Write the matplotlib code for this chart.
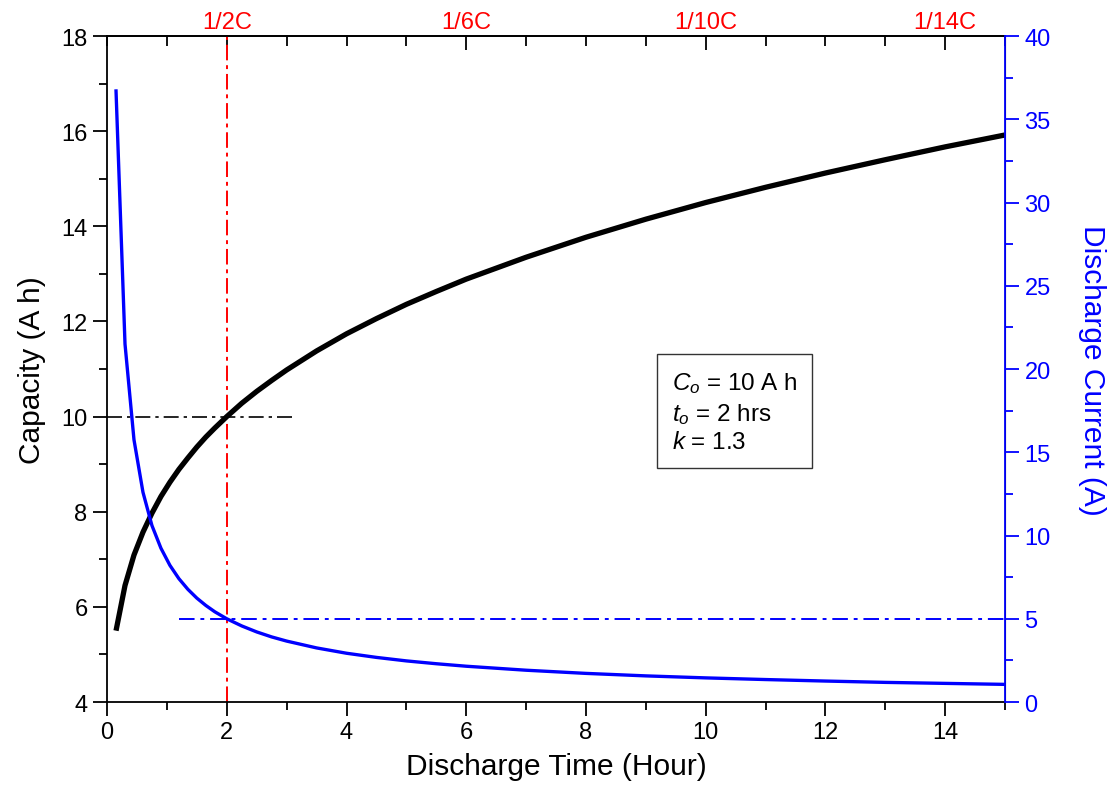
import matplotlib; matplotlib.use('Agg')
import matplotlib.pyplot as plt
from matplotlib.ticker import MultipleLocator, FixedLocator

plt.rcParams['font.family'] = ['Liberation Sans', 'DejaVu Sans']
plt.rcParams['mathtext.fontset'] = 'custom'
plt.rcParams['mathtext.it'] = 'Liberation Sans:italic'
plt.rcParams['mathtext.rm'] = 'Liberation Sans'

# values
time_h = [0.15, 0.3, 0.45, 0.6, 0.75, 0.9, 1.05, 1.2, 1.35, 1.5, 1.65, 1.8,
          2.0, 2.25, 2.5, 2.75, 3.0, 3.5, 4.0, 4.5, 5.0, 5.5, 6.0, 7.0,
          8.0, 9.0, 10.0, 11.0, 12.0, 13.0, 14.0, 15.0]
capacity = [5.50, 6.45, 7.09, 7.57, 7.97, 8.32, 8.62, 8.89, 9.13, 9.36, 9.57,
            9.76, 10.00, 10.28, 10.53, 10.76, 10.98, 11.38, 11.74, 12.06,
            12.36, 12.63, 12.89, 13.35, 13.77, 14.15, 14.50, 14.82, 15.12,
            15.40, 15.67, 15.92]
current = [36.7, 21.5, 15.75, 12.6, 10.6, 9.24, 8.21, 7.41, 6.77, 6.24, 5.80,
           5.42, 5.00, 4.57, 4.21, 3.91, 3.66, 3.25, 2.93, 2.68, 2.47, 2.30,
           2.15, 1.91, 1.72, 1.57, 1.45, 1.35, 1.26, 1.18, 1.12, 1.06]
rate_pos = [2, 6, 10, 14]
rate_lbl = ['1/2C', '1/6C', '1/10C', '1/14C']
C0, t0, k = 10, 2, 1.3
I_ref = 5

fig = plt.figure(figsize=(11.07, 8.03), dpi=100)
fig.patch.set_facecolor('white')
ax = fig.add_axes([0.0967, 0.1245, 0.8112, 0.8294])
ax2 = ax.twinx()

ax.plot(time_h, capacity, color='black', lw=3.8, solid_capstyle='butt',
        solid_joinstyle='round', zorder=3)
ax2.plot(time_h, current, color='#0000ff', lw=2.4, solid_joinstyle='round', zorder=3)

ax.plot([0, 3.1], [C0, C0], color='black', lw=1.2, dashes=(9, 3, 2, 3))
ax2.plot([1.2, 15], [I_ref, I_ref], color='#0000ff', lw=1.4, dashes=(8, 3, 2, 3))
ax.axvline(t0, color='#ff0000', lw=1.4, dashes=(8, 2.5, 2, 2.5), zorder=2)

ax.set_xlim(0, 15)
ax.set_ylim(4, 18)
ax2.set_ylim(0, 40)

ax.xaxis.set_major_locator(MultipleLocator(2))
ax.xaxis.set_minor_locator(MultipleLocator(1))
ax.yaxis.set_major_locator(MultipleLocator(2))
ax.yaxis.set_minor_locator(MultipleLocator(1))
ax2.yaxis.set_major_locator(MultipleLocator(5))
ax2.yaxis.set_minor_locator(MultipleLocator(2.5))

ax.tick_params(axis='both', which='major', direction='out', length=10, width=1.3,
               labelsize=17, pad=4)
ax.tick_params(axis='both', which='minor', direction='out', length=6, width=1.3)
ax2.tick_params(axis='y', which='major', direction='out', length=10, width=1.3,
                labelsize=17, colors='#0000ff', pad=4)
ax2.tick_params(axis='y', which='minor', direction='out', length=6, width=1.3,
                colors='#0000ff')

for s in ['left', 'bottom', 'top']:
    ax.spines[s].set_linewidth(1.3)
ax2.spines['right'].set_color('#0000ff')
ax2.spines['right'].set_linewidth(1.3)
ax2.spines['left'].set_visible(False)
ax2.spines['top'].set_visible(False)
ax2.spines['bottom'].set_visible(False)

# top axis with C-rate labels
top = ax.secondary_xaxis('top')
top.xaxis.set_major_locator(FixedLocator(rate_pos))
top.set_xticklabels(rate_lbl)
top.xaxis.set_minor_locator(MultipleLocator(1))
top.tick_params(which='major', direction='in', length=10, width=1.3,
                labelsize=17, labelcolor='#ff0000', pad=2)
top.tick_params(which='minor', direction='in', length=7, width=1.3)
top.spines['top'].set_linewidth(1.3)

ax.set_xlabel('Discharge Time (Hour)', fontsize=21.5, labelpad=6)
ax.set_ylabel('Capacity (A h)', fontsize=21.5, labelpad=11)
ax2.set_ylabel('Discharge Current (A)', fontsize=21.5, color='#0000ff',
               rotation=270, labelpad=40)

info = (r'$\mathit{C_o}$ = %d A h' % C0 + '\n' +
        r'$\mathit{t_o}$ = %d hrs' % t0 + '\n' +
        r'$\mathit{k}$ = %.1f' % k)
ax.text(0.629, 0.499, info, transform=ax.transAxes, fontsize=17.5,
        va='top', ha='left', linespacing=1.33,
        bbox=dict(boxstyle='square,pad=0.6', facecolor='white',
                  edgecolor='#333333', linewidth=1.0))

plt.savefig('out.png', dpi=100, facecolor='white')
